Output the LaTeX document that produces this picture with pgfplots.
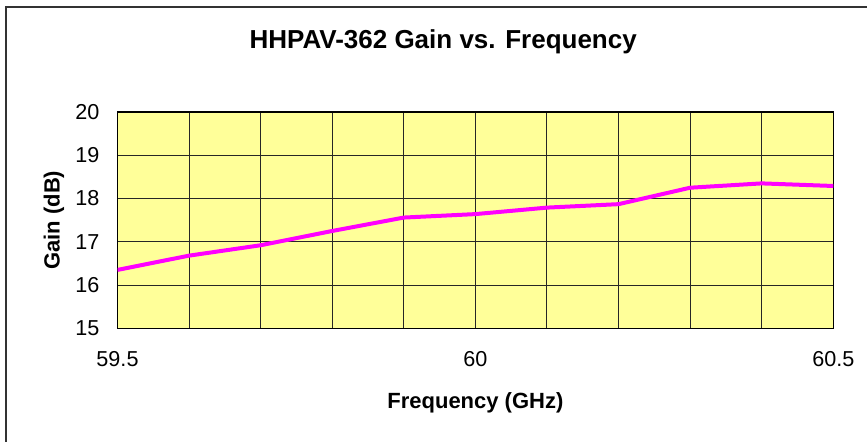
\documentclass[border=0pt]{standalone}
\usepackage{fontspec}
\setmainfont{Liberation Sans}
\usepackage{pgfplots}
\pgfplotsset{compat=1.18}
\definecolor{plotbg}{HTML}{FFFF99}
\definecolor{gainline}{HTML}{FF00FF}
\begin{document}
\begin{tikzpicture}
\useasboundingbox (0,0) rectangle (433.5pt,220.5pt);
\draw[line width=0.7pt, black!80] (3pt,-10pt) rectangle (445pt,217pt);
\begin{axis}[
  at={(58.75pt,56.35pt)}, anchor=south west,
  scale only axis, width=357.9pt, height=108.15pt,
  xmin=59.5, xmax=60.5, ymin=15, ymax=20,
  xtick={59.5,60,60.5}, minor x tick num=4,
  ytick={15,16,17,18,19,20},
  major tick length=0pt, minor tick length=0pt,
  grid=both,
  major grid style={black!85, line width=0.5pt},
  minor grid style={black!85, line width=0.5pt},
  axis line style={black, line width=0.7pt},
  axis background/.style={fill=plotbg},
  /pgf/number format/assume math mode=true,
  ticklabel style={font=\fontsize{10.8pt}{12pt}\selectfont},
  xticklabel style={yshift=-8pt},
  yticklabel style={xshift=-5.5pt},
  title={HHPAV-362 Gain vs. Frequency},
  title style={font=\fontsize{13pt}{15pt}\selectfont\bfseries, at={(axis description cs:0.455,1)}, anchor=base, yshift=25.85pt},
  xlabel={Frequency (GHz)},
  xlabel style={font=\fontsize{11pt}{13pt}\selectfont\bfseries, at={(axis description cs:0.5,0)}, anchor=base, yshift=-40pt},
  ylabel={Gain (dB)},
  ylabel style={font=\fontsize{11pt}{13pt}\selectfont\bfseries, at={(axis description cs:-0.0887,0.5)}, anchor=center},
]
\addplot[gainline, line width=2pt, no marks] coordinates {
  (59.5,16.35) (59.6,16.68) (59.7,16.92) (59.8,17.25) (59.9,17.56)
  (60.0,17.64) (60.1,17.79) (60.2,17.87) (60.3,18.25) (60.4,18.35) (60.5,18.29)
};
\end{axis}
\end{tikzpicture}
\end{document}
